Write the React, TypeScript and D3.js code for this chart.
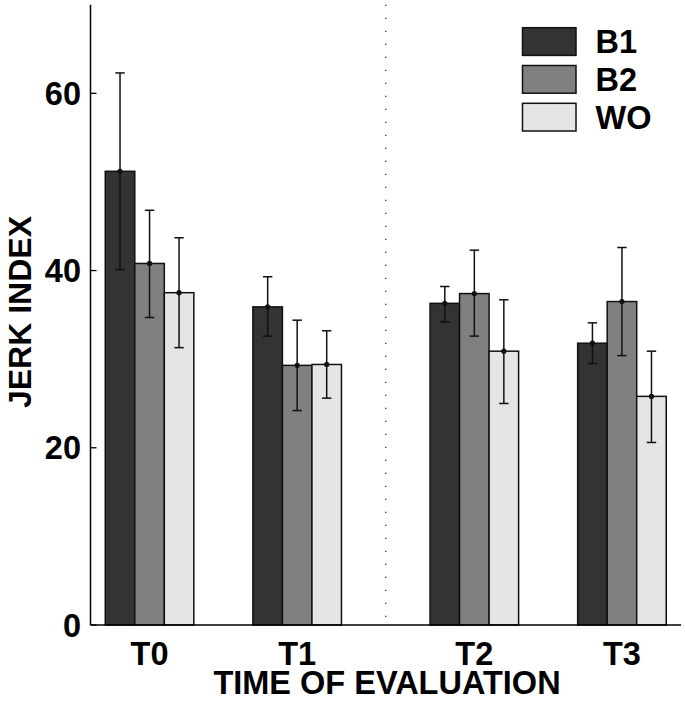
import React from "react";
import * as d3 from "d3";

const categories = ["T0", "T1", "T2", "T3"];
const positions = [1, 2, 3.2, 4.2];
const series = ["B1", "B2", "WO"];
const colors = ["#333333", "#808080", "#e5e5e5"];
const means = [
  [51.2, 40.8, 37.5],
  [35.9, 29.3, 29.4],
  [36.3, 37.4, 30.9],
  [31.8, 36.5, 25.8],
];
const lower = [
  [40.1, 34.7, 31.3],
  [32.6, 24.2, 25.6],
  [34.2, 32.6, 25.0],
  [29.5, 30.4, 20.6],
];
const upper = [
  [62.3, 46.8, 43.7],
  [39.3, 34.4, 33.2],
  [38.2, 42.3, 36.7],
  [34.1, 42.6, 30.9],
];
const yTicks = [0, 20, 40, 60];
const dividerPos = 2.6;

export default function App() {
  const W = 685, H = 702;
  const x = d3.scaleLinear().domain([0.6, 4.6]).range([90.5, 681]);
  const y = d3.scaleLinear().domain([0, 70]).range([625, 4.7]);
  const barW = 0.2;
  const font = "'Liberation Sans', Arial, Helvetica, sans-serif";
  const bw = x(barW) - x(0);

  return (
    <svg width={W} height={H} style={{ position: "absolute", left: 0, top: 0, background: "#fff" }} fontFamily={font}>
      {/* divider */}
      <line x1={x(dividerPos)} x2={x(dividerPos)} y1={y(70)} y2={y(0)} stroke="#333" strokeWidth={1.3} strokeDasharray="1.3 11.7" />
      {/* bars */}
      {categories.map((c, i) =>
        series.map((s, j) => {
          const x0 = x(positions[i] + (j - 1.5) * barW);
          return (
            <rect key={c + s} x={x0} y={y(means[i][j])} width={bw} height={y(0) - y(means[i][j])}
              fill={colors[j]} stroke="#111" strokeWidth={1.5} />
          );
        })
      )}
      {/* error bars */}
      {categories.map((c, i) =>
        series.map((s, j) => {
          const cx = x(positions[i] + (j - 1) * barW);
          return (
            <g key={"e" + c + s} stroke="#111" strokeWidth={1.5}>
              <line x1={cx} x2={cx} y1={y(lower[i][j])} y2={y(upper[i][j])} />
              <line x1={cx - 4.7} x2={cx + 4.7} y1={y(lower[i][j])} y2={y(lower[i][j])} />
              <line x1={cx - 4.7} x2={cx + 4.7} y1={y(upper[i][j])} y2={y(upper[i][j])} />
              <circle cx={cx} cy={y(means[i][j])} r={2.6} fill="#111" stroke="none" />
            </g>
          );
        })
      )}
      {/* axes */}
      <line x1={x(0.6)} x2={x(0.6)} y1={y(70)} y2={y(0)} stroke="#000" strokeWidth={1.5} />
      <line x1={x(0.6)} x2={x(4.6)} y1={y(0)} y2={y(0)} stroke="#000" strokeWidth={1.5} />
      {yTicks.map((t) => (
        <g key={t}>
          <line x1={x(0.6)} x2={x(0.6) + 6} y1={y(t)} y2={y(t)} stroke="#000" strokeWidth={1.3} />
          <text x={81} y={y(t)} dy="0.36em" textAnchor="end" fontSize={32.5} fontWeight="bold">{t}</text>
        </g>
      ))}
      {categories.map((c, i) => (
        <text key={c} x={x(positions[i])} y={665} textAnchor="middle" fontSize={32.5} fontWeight="bold">{c}</text>
      ))}
      <text x={387} y={694} textAnchor="middle" fontSize={32.5} fontWeight="bold">TIME OF EVALUATION</text>
      <text transform={`translate(31,312) rotate(-90)`} textAnchor="middle" fontSize={32} fontWeight="bold">JERK INDEX</text>
      {/* legend */}
      {series.map((s, j) => (
        <g key={s} transform={`translate(522.5, ${27.7 + j * 37.8})`}>
          <rect x={0} y={0} width={53.5} height={27.7} fill={colors[j]} stroke="#111" strokeWidth={1.5} />
          <text x={73} y={25.5} fontSize={32.5} fontWeight="bold">{s}</text>
        </g>
      ))}
    </svg>
  );
}
